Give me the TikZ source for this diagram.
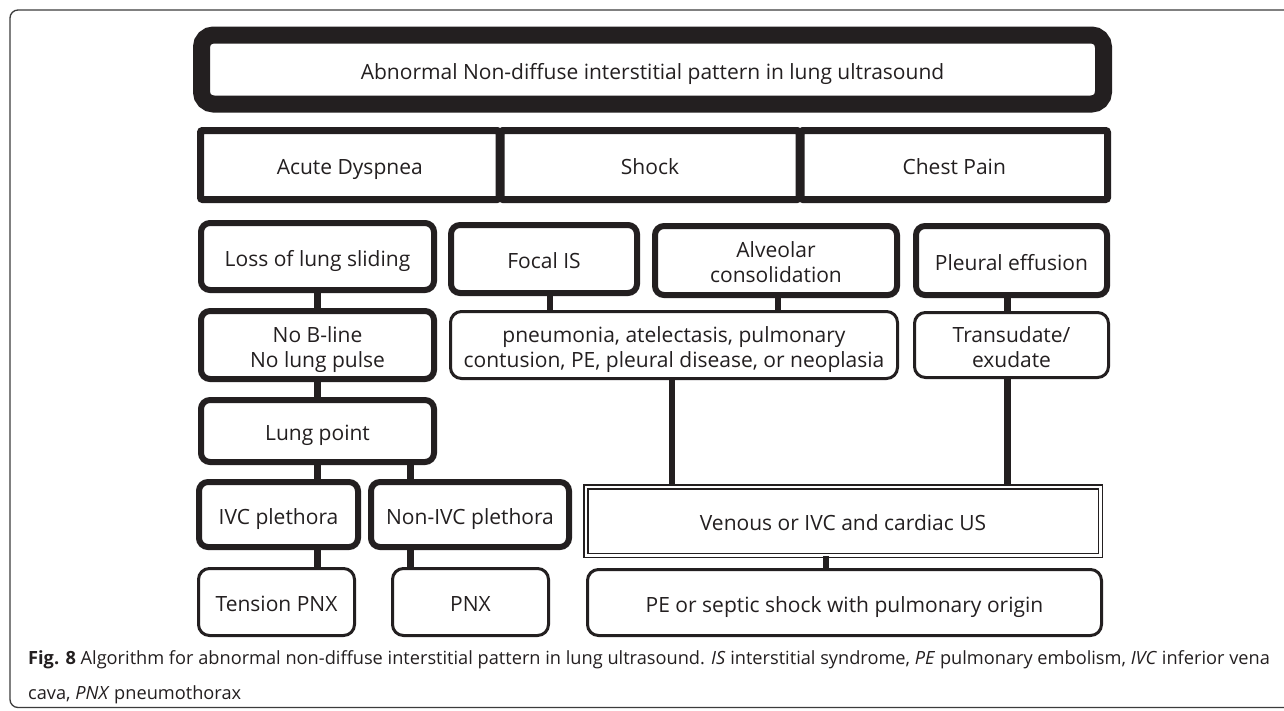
\documentclass[tikz,border=0pt]{standalone}
\usepackage{fontspec}
\setmainfont{Open Sans}
\usetikzlibrary{calc}
\definecolor{ink}{HTML}{231F20}
\definecolor{framec}{HTML}{3C3C3C}
\newcommand{\boxtxt}[1]{\raisebox{-4.5pt}[\height][\depth]{\begin{tabular}{@{}c@{}}#1\end{tabular}}}
\tikzset{
  lbl/.style={font=\fontsize{21pt}{25pt}\selectfont, text=ink, align=center, inner sep=0pt},
  titlebox/.style={lbl, draw=ink, line width=17pt, rounded corners=12pt},
  cellbox/.style={lbl, draw=ink, line width=7pt, rounded corners=2pt},
  thickbox/.style={lbl, draw=ink, line width=6pt, rounded corners=9pt},
  thinbox/.style={lbl, draw=ink, line width=3pt, rounded corners=11pt},
  dblbox/.style={lbl, draw=ink, line width=1.5pt, double=white, double distance=2.5pt},
  link/.style={draw=ink, line width=6.5pt},
  frameline/.style={draw=framec, line width=1.3pt, rounded corners=8pt},
  captext/.style={font=\fontsize{18.2pt}{22pt}\selectfont, text=ink, inner sep=0pt, anchor=base west}
}
\begin{document}
\begin{tikzpicture}[x=1pt,y=-1pt]
\useasboundingbox (0,0) rectangle (1284,710);
\fill[white] (0,0) rectangle (1284,710);
\draw[frameline] (1310,10) -- (10,10) -- (10,707.5) -- (1310,707.5);

% title
\node[titlebox, minimum width=902pt, minimum height=69pt] (title) at (652.5,69.5)
  {\boxtxt{Abnormal Non-diffuse interstitial pattern in lung ultrasound}};

% second row
\node[cellbox, minimum width=298.5pt, minimum height=69pt] (acute) at (349.75,165) {\boxtxt{Acute Dyspnea}};
\node[cellbox, minimum width=298pt, minimum height=69pt] (shock) at (650,165) {\boxtxt{Shock}};
\node[cellbox, minimum width=306.5pt, minimum height=69pt] (chest) at (954.25,165) {\boxtxt{Chest Pain}};

% third row
\node[thickbox, minimum width=233pt, minimum height=67pt] (loss) at (317.5,256.5) {\boxtxt{Loss of lung sliding}};
\node[thickbox, minimum width=186pt, minimum height=68pt] (focal) at (544,259) {\boxtxt{Focal IS}};
\node[thickbox, minimum width=242pt, minimum height=69pt] (alv) at (776,260.5) {\boxtxt{Alveolar\\consolidation}};
\node[thickbox, minimum width=191pt, minimum height=69pt] (pleu) at (1011.5,260.5) {\boxtxt{Pleural effusion}};

% fourth row
\node[thickbox, minimum width=233pt, minimum height=68pt] (nob) at (317.5,345) {\boxtxt{No B-line\\No lung pulse}};
\node[thinbox, minimum width=447pt, minimum height=67pt] (pneu) at (674,345)
  {\boxtxt{pneumonia, atelectasis, pulmonary\\contusion, PE, pleural disease, or neoplasia}};
\node[thinbox, minimum width=194pt, minimum height=65pt] (trans) at (1011.5,345) {\boxtxt{Transudate/\\exudate}};

% fifth row
\node[thickbox, minimum width=233pt, minimum height=62pt] (lp) at (317.5,431) {\boxtxt{Lung point}};

% sixth row
\node[thickbox, minimum width=159pt, minimum height=65pt] (ivc) at (278.5,514.5) {\boxtxt{IVC plethora}};
\node[thickbox, minimum width=198pt, minimum height=65pt] (nivc) at (470,514.5) {\boxtxt{Non-IVC plethora}};
\node[dblbox, minimum width=514.5pt, minimum height=68.5pt] (ven) at (843,521) {\boxtxt{Venous or IVC and cardiac US}};

% seventh row
\node[thinbox, minimum width=156pt, minimum height=67pt] (tpnx) at (276.5,602) {\boxtxt{Tension PNX}};
\node[thinbox, minimum width=156pt, minimum height=67pt] (pnx) at (470.5,602) {\boxtxt{PNX}};
\node[thinbox, minimum width=514pt, minimum height=66pt] (pe) at (844.5,602.5) {\boxtxt{PE or septic shock with pulmonary origin}};

% connectors
\draw[link] (loss.south) -- (nob.north);
\draw[link] (nob.south) -- (lp.north);
\draw[link] (lp.south) -- (lp.south |- ivc.north);
\draw[link] ([xshift=93pt]lp.south) -- ([xshift=93pt]lp.south |- nivc.north);
\draw[link] (ivc.south -| lp.south) -- (lp.south |- tpnx.north);
\draw[link] ([xshift=93pt]lp.south |- nivc.south) -- ([xshift=93pt]lp.south |- pnx.north);
\draw[link] ([xshift=6pt]focal.south) -- ([xshift=6pt]focal.south |- pneu.north);
\draw[link] ([xshift=2pt]alv.south) -- ([xshift=2pt]alv.south |- pneu.north);
\draw[link] ([xshift=-4pt]pleu.south) -- ([xshift=-4pt]pleu.south |- trans.north);
\draw[link] ([xshift=-2pt]pneu.south) -- ([xshift=-2pt]pneu.south |- ven.north);
\draw[link] ([xshift=-4pt]trans.south) -- ([xshift=-4pt]trans.south |- ven.north);
\draw[link] ([xshift=-17pt]ven.south) -- ([xshift=-17pt]ven.south |- pe.north);

% caption
\node[captext] (cap1) at (28,664) {\textbf{Fig. 8} Algorithm for abnormal non-diffuse interstitial pattern in lung ultrasound. \textit{IS} interstitial syndrome, \textit{PE} pulmonary embolism, \textit{IVC} inferior vena};
\node[captext] (cap2) at (28,699) {cava, \textit{PNX} pneumothorax};
\end{tikzpicture}
\end{document}
